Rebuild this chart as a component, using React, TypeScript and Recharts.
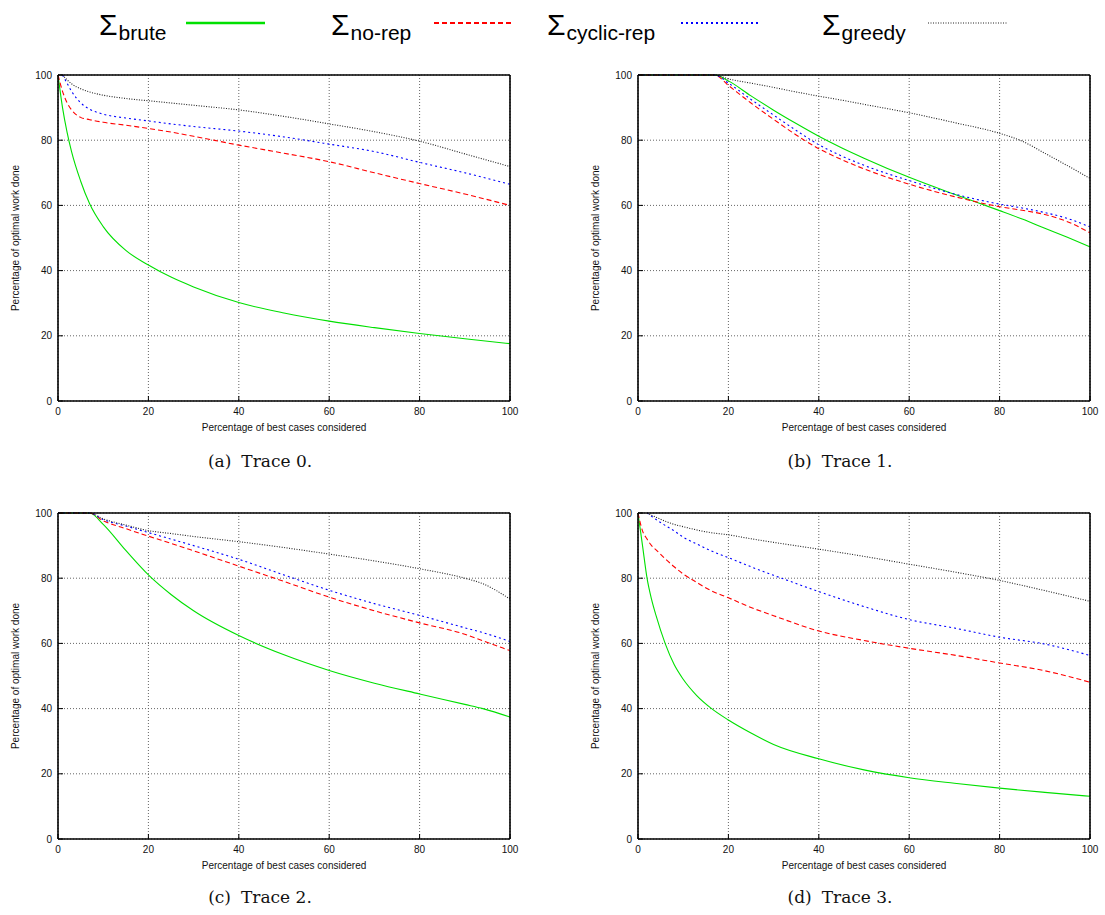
import { LineChart, Line, XAxis, YAxis, CartesianGrid, Label } from 'recharts';

const ticks = [0, 20, 40, 60, 80, 100];

// Trace 0
const x0 = [0, 1, 2, 3, 5, 7, 10, 15, 20, 25, 30, 40, 50, 60, 70, 80, 90, 100];
const brute0 = [100, 90, 82.5, 76.5, 67.5, 60.5, 53.5, 46.2, 41.7, 38, 35, 30.2, 27, 24.5, 22.5, 20.7, 19.1, 17.6];
const noRep0 = [100, 95, 91.5, 89.3, 87, 86.3, 85.5, 84.6, 83.6, 82.5, 81.2, 78.5, 76, 73.4, 70, 66.7, 63.5, 60];
const cyclic0 = [null, 100, 97.5, 95, 91.5, 89.5, 88, 86.8, 85.9, 85, 84.2, 82.8, 81, 78.8, 76.5, 73.2, 70, 66.5];
const greedy0 = [null, 100, 98.5, 97.3, 95.8, 94.8, 93.8, 92.8, 92.1, 91.4, 90.7, 89.3, 87.3, 85, 82.6, 79.7, 75.8, 71.9];

// Trace 1
const x1 = [0, 10, 17, 20, 25, 30, 35, 40, 45, 50, 60, 70, 80, 85, 90, 95, 100];
const brute1 = [100, 100, 100, 98.2, 93.6, 89.2, 85.1, 81.2, 77.7, 74.5, 68.6, 63.4, 58.4, 55.8, 53, 50.2, 47.3];
const noRep1 = [100, 100, 100, 96.8, 91.4, 86.4, 81.6, 77.4, 74.1, 71.2, 66.5, 62.7, 59.6, 58.5, 57.2, 55, 51.6];
const cyclic1 = [100, 100, 100, 97.5, 92.5, 87.7, 83, 78.6, 75.2, 72.3, 67.6, 63.5, 60.4, 59.2, 57.8, 56, 53.4];
const greedy1 = [100, 100, 100, 98.8, 97.5, 96.2, 94.8, 93.5, 92.3, 91, 88.4, 85.4, 82.1, 79.7, 76, 72.2, 68.3];

// Trace 2
const x2 = [0, 7, 10, 15, 20, 25, 30, 40, 50, 60, 70, 80, 90, 94, 100];
const brute2 = [100, 100, 96.5, 88.5, 81, 75, 70, 62.4, 56.5, 51.7, 47.8, 44.5, 41.3, 40, 37.4];
const noRep2 = [100, 100, 97.6, 95.2, 92.9, 90.7, 88.4, 83.7, 79, 74.2, 70, 66.3, 62.8, 60.8, 57.8];
const cyclic2 = [100, 100, 98, 96, 94, 92, 90, 85.8, 81, 76.3, 72.2, 68.6, 64.8, 63.3, 60.6];
const greedy2 = [100, 100, 98.2, 96.3, 94.6, 93.7, 92.8, 91.2, 89.4, 87.4, 85.3, 82.9, 80, 78.3, 73.6];

// Trace 3
const x3 = [0, 1, 2, 3, 4, 6, 8, 10, 13, 16, 20, 25, 30, 40, 50, 60, 70, 80, 90, 100];
const brute3 = [100, 90, 80, 73.5, 68.5, 60, 53.5, 49, 44, 40.3, 36.5, 32.5, 29, 24.6, 21.2, 18.8, 17.1, 15.6, 14.3, 13.1];
const noRep3 = [100, 94.5, 92, 90, 88.7, 86, 83.5, 81.3, 78.7, 76.3, 74, 71, 68.5, 63.8, 60.9, 58.5, 56.4, 54, 51.6, 48.1];
const cyclic3 = [null, null, 100, 99, 98, 96.2, 94.5, 92.6, 90.5, 88.5, 86.3, 83.5, 80.9, 75.9, 71.3, 67.3, 64.7, 61.9, 59.8, 56.3];
const greedy3 = [null, null, 100, 99.3, 98.7, 97.5, 96.5, 95.8, 94.8, 94, 93.3, 92.1, 91, 88.9, 86.7, 84.3, 81.9, 79.3, 76.2, 72.9];

const captions = ['(a)', '(b)', '(c)', '(d)'];
const traceNames = ['Trace 0.', 'Trace 1.', 'Trace 2.', 'Trace 3.'];

const series = [
  { key: 'brute', name: 'brute', color: '#00e000', dash: undefined, legendWidth: 2.5 },
  { key: 'noRep', name: 'no-rep', color: '#ff0000', dash: '5 3', legendWidth: 2 },
  { key: 'cyclic', name: 'cyclic-rep', color: '#0000ff', dash: '2 3', legendWidth: 2 },
  { key: 'greedy', name: 'greedy', color: '#222222', dash: '1 1.5', legendWidth: 1 },
];

const buildRows = (xs: number[], b: any[], n: any[], c: any[], g: any[]) =>
  xs.map((x, i) => ({ x, brute: b[i], noRep: n[i], cyclic: c[i], greedy: g[i] }));

const traces = [
  buildRows(x0, brute0, noRep0, cyclic0, greedy0),
  buildRows(x1, brute1, noRep1, cyclic1, greedy1),
  buildRows(x2, brute2, noRep2, cyclic2, greedy2),
  buildRows(x3, brute3, noRep3, cyclic3, greedy3),
];

const tickStyle = { fill: '#111', fontSize: 10, fontFamily: 'Liberation Sans, Arial, sans-serif' };
const frame = { stroke: '#000', strokeWidth: 1.6 };

const TraceChart = ({ rows }: { rows: any[] }) => (
  <LineChart width={540} height={380} data={rows} margin={{ top: 14, right: 29, bottom: 9, left: 18 }}>
    <CartesianGrid stroke="#555" strokeDasharray="1 2" strokeWidth={0.9} />
    <XAxis
      dataKey="x"
      type="number"
      domain={[0, 100]}
      ticks={ticks}
      interval={0}
      height={30}
      tickSize={-5}
      tickMargin={12}
      axisLine={frame}
      tickLine={{ stroke: '#000' }}
      tick={tickStyle}
    >
      <Label
        value="Percentage of best cases considered"
        position="insideBottom"
        offset={0}
        style={{ fontSize: 10, fill: '#111', fontFamily: 'Liberation Sans, Arial, sans-serif' }}
      />
    </XAxis>
    <YAxis
      type="number"
      domain={[0, 100]}
      ticks={ticks}
      interval={0}
      width={40}
      tickSize={-5}
      tickMargin={11}
      axisLine={frame}
      tickLine={{ stroke: '#000' }}
      tick={tickStyle}
    >
      <Label
        value="Percentage of optimal work done"
        angle={-90}
        position="insideLeft"
        offset={-3}
        style={{ textAnchor: 'middle', fontSize: 10, fill: '#111', fontFamily: 'Liberation Sans, Arial, sans-serif' }}
      />
    </YAxis>
    <XAxis
      xAxisId="top"
      orientation="top"
      type="number"
      domain={[0, 100]}
      ticks={ticks}
      interval={0}
      height={1}
      tick={false}
      tickSize={-5}
      axisLine={frame}
      tickLine={{ stroke: '#000' }}
    />
    <YAxis
      yAxisId="right"
      orientation="right"
      type="number"
      domain={[0, 100]}
      ticks={ticks}
      interval={0}
      width={1}
      tick={false}
      tickSize={-5}
      axisLine={frame}
      tickLine={{ stroke: '#000' }}
    />
    {series.map((s) => (
      <Line
        key={s.key}
        dataKey={s.key}
        type="monotone"
        stroke={s.color}
        strokeWidth={1.1}
        strokeDasharray={s.dash}
        dot={false}
        activeDot={false}
        isAnimationActive={false}
      />
    ))}
  </LineChart>
);

const chartPos = [
  { left: 0, top: 60, cx: 260, cy: 461 },
  { left: 580, top: 60, cx: 840, cy: 461 },
  { left: 0, top: 498, cx: 260, cy: 897 },
  { left: 580, top: 498, cx: 840, cy: 897 },
];

// legend: x of the Σ and start of the sample line
const legendPos = [
  { tx: 99, lx: 186 },
  { tx: 331, lx: 434 },
  { tx: 547, lx: 681 },
  { tx: 822, lx: 928 },
];

export default function App() {
  return (
    <div style={{ position: 'absolute', left: 0, top: 0, width: 1105, height: 915, background: '#fff' }}>
      <svg width={1105} height={55} style={{ position: 'absolute', left: 0, top: 0 }}>
        {series.map((s, i) => (
          <g key={s.key}>
            <text
              x={legendPos[i].tx}
              y={35}
              fontFamily="Liberation Sans, Arial, sans-serif"
              fontSize={30}
              fill="#000"
            >
              Σ
              <tspan fontSize={21} dx={1} dy={5}>
                {s.name}
              </tspan>
            </text>
            <line
              x1={legendPos[i].lx}
              x2={legendPos[i].lx + 79}
              y1={23}
              y2={23}
              stroke={s.color}
              strokeWidth={s.legendWidth}
              strokeDasharray={s.dash}
            />
          </g>
        ))}
      </svg>
      {traces.map((rows, i) => (
        <div key={i}>
          <div style={{ position: 'absolute', left: chartPos[i].left, top: chartPos[i].top }}>
            <TraceChart rows={rows} />
          </div>
          <div
            style={{
              position: 'absolute',
              left: chartPos[i].cx - 150,
              top: chartPos[i].cy - 10,
              width: 300,
              lineHeight: '20px',
              textAlign: 'center',
              fontFamily: 'DejaVu Serif, serif',
              fontSize: 17,
              color: '#111',
            }}
          >
            {captions[i]}
            <span style={{ marginLeft: 10 }}>{traceNames[i]}</span>
          </div>
        </div>
      ))}
    </div>
  );
}
